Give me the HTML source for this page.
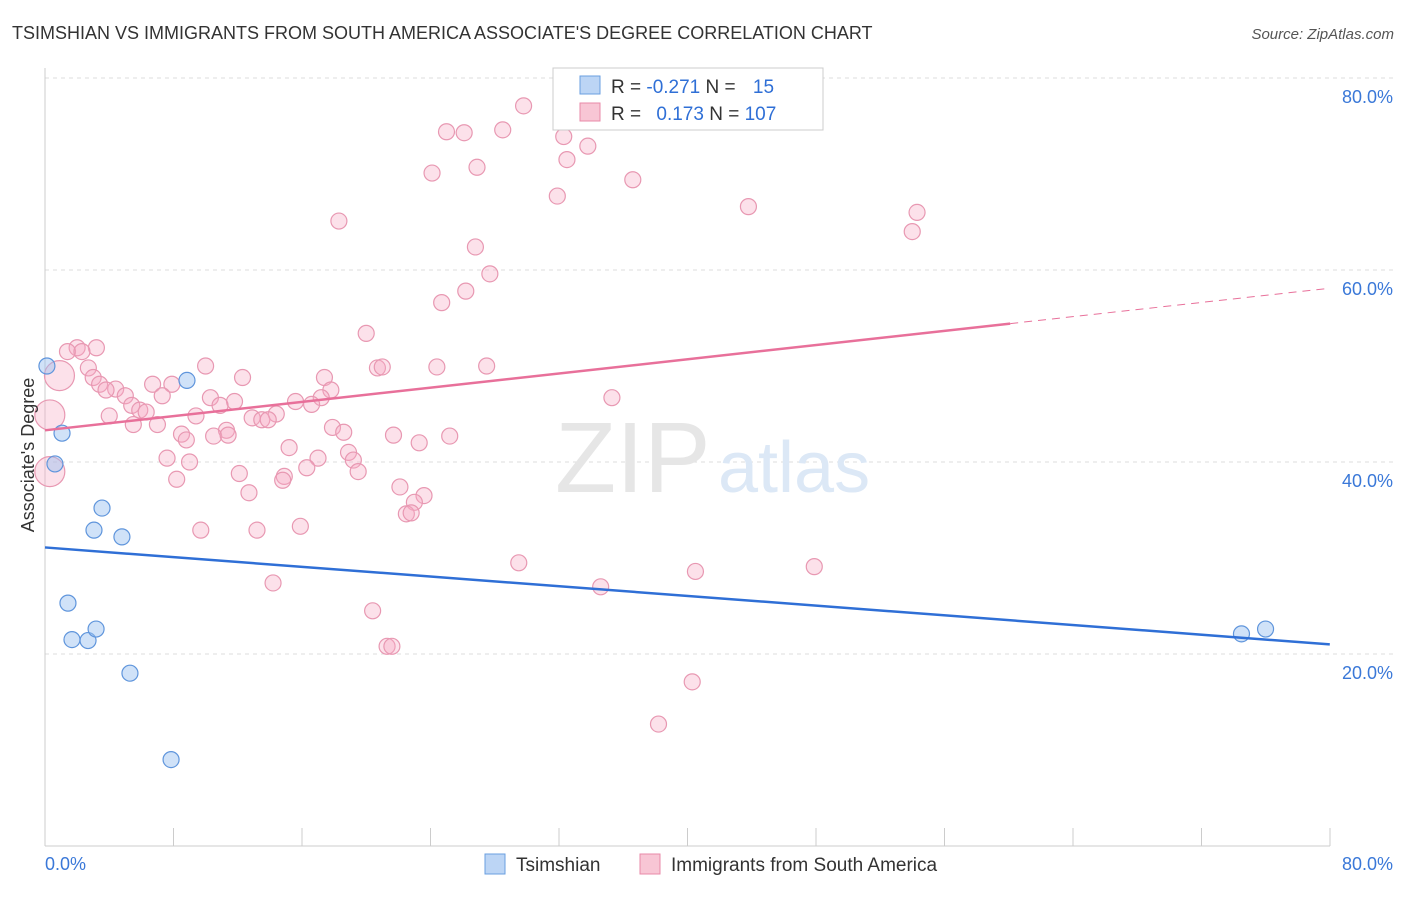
<!DOCTYPE html>
<html><head><meta charset="utf-8"><style>
body{margin:0;background:#fff;font-family:"Liberation Sans",sans-serif}
svg text{font-family:"Liberation Sans",sans-serif}
</style></head><body>
<svg id="c" width="1406" height="892">
<text x="12" y="39" font-size="18" fill="#333">TSIMSHIAN VS IMMIGRANTS FROM SOUTH AMERICA ASSOCIATE'S DEGREE CORRELATION CHART</text>
<text x="1394" y="39" font-size="15" fill="#555" text-anchor="end" font-style="italic">Source: ZipAtlas.com</text>
<g id="grid"></g>
<text x="555" y="492" font-size="100" fill="#e6e6e6" font-family="Liberation Serif">ZIP</text>
<text x="718" y="492" font-size="72" fill="#dce8f6">atlas</text>
<g id="marks"></g>
<text transform="translate(34,455) rotate(-90)" font-size="18" fill="#333" text-anchor="middle">Associate's Degree</text>
<g>
<rect x="553" y="68" width="270" height="62" fill="#fff" stroke="#ccc"/>
<rect x="580" y="76" width="20" height="18" fill="#bcd5f5" stroke="#6a9fe0"/>
<rect x="580" y="103" width="20" height="18" fill="#f8c6d5" stroke="#e88aa8"/>
<text x="611" y="93" font-size="19" fill="#333">R = <tspan fill="#2f6fd6">-0.271</tspan>   N = <tspan fill="#2f6fd6" dx="12">15</tspan></text>
<text x="611" y="120" font-size="19" fill="#333">R = <tspan fill="#2f6fd6" dx="10">0.173</tspan>   N = <tspan fill="#2f6fd6">107</tspan></text>
</g>
<g>
<rect x="485" y="854" width="20" height="20" fill="#bcd5f5" stroke="#6a9fe0"/>
<text x="516" y="871" font-size="19" fill="#333">Tsimshian</text>
<rect x="640" y="854" width="20" height="20" fill="#f8c6d5" stroke="#e88aa8"/>
<text x="671" y="871" font-size="19" fill="#333">Immigrants from South America</text>
</g>
</svg>
<script>
const blueX=[0.12,1.06,0.62,3.55,3.05,4.79,1.43,1.68,2.68,3.18,5.29,7.85,8.84,74.5,76.0];
const blueY=[50.0,43.0,39.8,35.2,32.9,32.2,25.3,21.5,21.4,22.6,18.0,9.0,48.5,22.1,22.6];
const pinkX=[29.8,28.5,25.0,26.1,32.3,33.8,32.5,26.9,24.1,36.6,31.9,43.8,54.3,18.3,54.0,26.8,27.7,26.2,24.7,20.0,3.2,2.0,1.4,2.3,10.0,20.7,21.0,24.4,27.5,0.9,2.7,3.0,12.3,17.4,6.7,7.9,3.4,4.4,3.8,5.0,17.8,7.3,10.3,11.8,15.6,17.2,16.6,35.3,10.9,5.4,5.9,6.3,0.3,4.0,9.4,14.4,12.9,13.5,13.9,7.0,5.5,17.9,18.6,11.3,8.5,8.8,10.5,11.4,21.7,23.3,25.2,15.2,18.9,19.2,7.6,9.0,17.0,16.3,19.5,0.3,12.1,14.9,14.8,8.2,22.1,12.7,23.6,23.0,22.5,22.8,9.7,13.2,15.9,29.5,47.9,40.5,14.2,34.6,20.4,21.3,21.6,40.3,38.2];
const pinkY=[77.1,74.6,74.4,74.3,73.9,72.9,71.5,70.7,70.1,69.4,67.7,66.6,66.0,65.1,64.0,62.4,59.6,57.8,56.6,53.4,51.9,51.9,51.5,51.5,50.0,49.8,49.9,49.9,50.0,49.0,49.8,48.8,48.8,48.8,48.1,48.1,48.1,47.6,47.5,46.9,47.5,46.9,46.7,46.3,46.3,46.7,46.0,46.7,45.9,45.9,45.4,45.2,44.9,44.8,44.8,45.0,44.6,44.4,44.4,43.9,43.9,43.6,43.1,43.3,42.9,42.3,42.7,42.8,42.8,42.0,42.7,41.5,41.0,40.2,40.4,40.0,40.4,39.4,39.0,39.0,38.8,38.5,38.1,38.2,37.4,36.8,36.5,35.8,34.6,34.7,32.9,32.9,33.3,29.5,29.1,28.6,27.4,27.0,24.5,20.8,20.8,17.1,12.7];
const bigPink=[29,52,79];
const yTicks=[20,40,60,80];
const xTickLabels=["0.0%","80.0%"];
const blueTrend=[31.1,21.0];   // y at x=0, x=80
const pinkTrend=[43.3,58.1];   // y at x=0, x=80
const ns="http://www.w3.org/2000/svg";
const X=v=>45+v*16.06, Y=v=>846-v*9.6;
function mk(t,a,p){const e=document.createElementNS(ns,t);for(const k in a)e.setAttribute(k,a[k]);p.appendChild(e);return e;}
const g=document.getElementById('grid'), m=document.getElementById('marks');
yTicks.forEach(t=>{
 const l=mk('line',{x1:45,x2:1394,y1:Y(t),y2:Y(t),stroke:'#ddd','stroke-dasharray':'4,4'},g);
 
 
 const tx=mk('text',{x:1393,y:Y(t)+25,'font-size':18,fill:'#3a78d8','text-anchor':'end'},g);
 tx.textContent=t.toFixed(1)+'%';
 
 
});
mk('line',{x1:45,x2:45,y1:68,y2:846,stroke:'#ccc'},g);
mk('line',{x1:45,x2:1330,y1:846,y2:846,stroke:'#ccc'},g);
for(let i=0;i<=10;i++){const x=45+i*128.5;mk('line',{x1:x,x2:x,y1:828,y2:846,stroke:'#ccc'},g);}
const xl=mk('text',{x:45,y:870,'font-size':18,fill:'#3a78d8'},g);xl.textContent=xTickLabels[0];


const xr=mk('text',{x:1393,y:870,'font-size':18,fill:'#3a78d8','text-anchor':'end'},g);xr.textContent=xTickLabels[1];


pinkX.forEach((v,i)=>{
 const c=mk('circle',{cx:X(v),cy:Y(pinkY[i]),r:bigPink.includes(i)?15:8,fill:'rgba(245,170,195,0.35)',stroke:'#e898b2','stroke-width':1.2},m);
 
 
});
blueX.forEach((v,i)=>{
 const c=mk('circle',{cx:X(v),cy:Y(blueY[i]),r:8,fill:'rgba(150,190,240,0.45)',stroke:'#5f95dc','stroke-width':1.2},m);
 
 
});
const py=x=>pinkTrend[0]+(pinkTrend[1]-pinkTrend[0])*x/80;
const by=x=>blueTrend[0]+(blueTrend[1]-blueTrend[0])*x/80;
const pl=mk('line',{x1:X(0),y1:Y(py(0)),x2:X(60.1),y2:Y(py(60.1)),stroke:'#e8709a','stroke-width':2.5},m);


const pd=mk('line',{x1:X(60.1),y1:Y(py(60.1)),x2:X(80),y2:Y(py(80)),stroke:'#e8709a','stroke-width':1,'stroke-dasharray':'8,6'},m);


const bl=mk('line',{x1:X(0),y1:Y(by(0)),x2:X(80),y2:Y(by(80)),stroke:'#2f6fd6','stroke-width':2.5},m);


</script>
</body></html>
